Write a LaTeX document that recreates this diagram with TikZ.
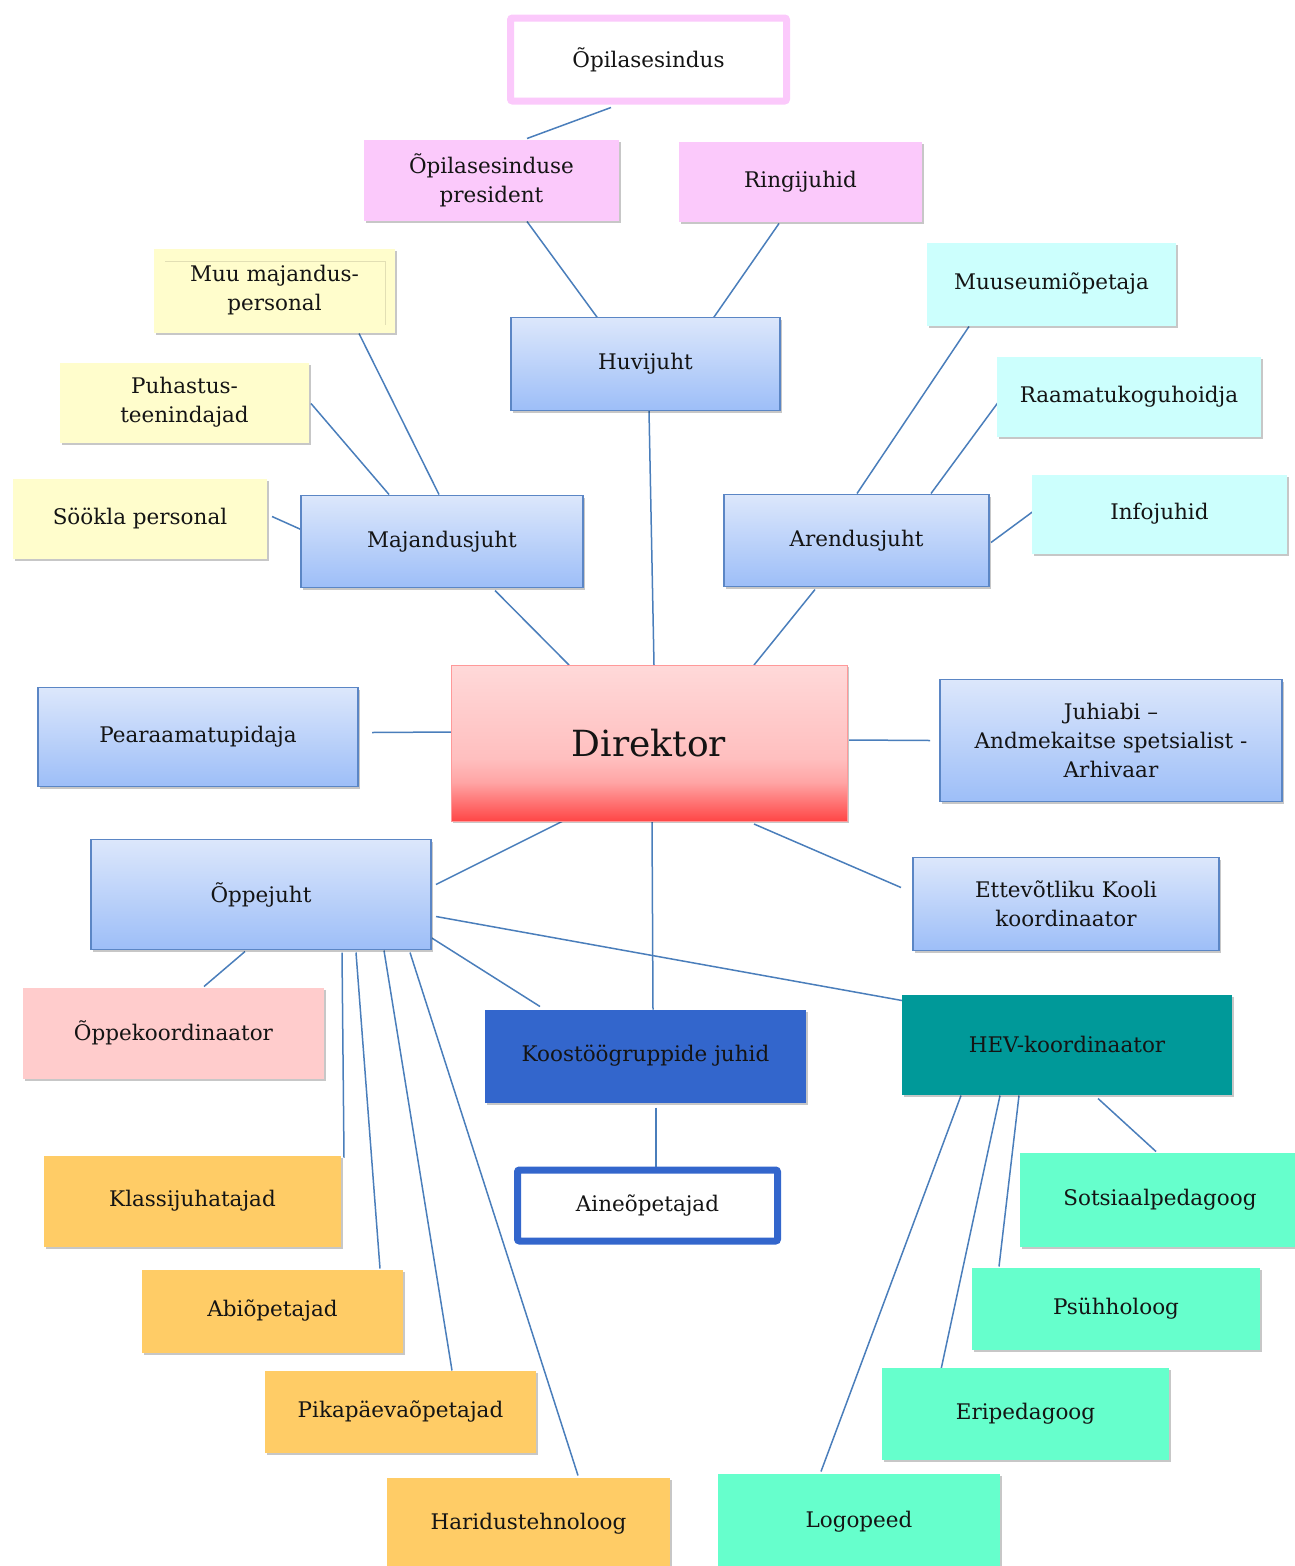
\documentclass[tikz,border=0pt]{standalone}
\usepackage{fontspec}
\setmainfont{DejaVu Serif}
\usetikzlibrary{shadows,backgrounds}
\definecolor{lnc}{HTML}{4A7EBB}
\definecolor{pinkc}{HTML}{FBC9FB}
\definecolor{yelc}{HTML}{FFFDCC}
\definecolor{yeledge}{HTML}{E2DFB4}
\definecolor{cyac}{HTML}{CCFFFD}
\definecolor{orac}{HTML}{FFCC66}
\definecolor{mintc}{HTML}{66FFCC}
\definecolor{tealc}{HTML}{009999}
\definecolor{koosc}{HTML}{3366CC}
\definecolor{rosec}{HTML}{FFCCCC}
\definecolor{bluetop}{HTML}{DCE7FB}
\definecolor{bluebot}{HTML}{9DBEF8}
\definecolor{blueedge}{HTML}{5B86C5}
\definecolor{redtop}{HTML}{FFD9D9}
\definecolor{redlt}{HTML}{FFBFBF}
\definecolor{redmd}{HTML}{FFA5A5}
\definecolor{redbot}{HTML}{FF4646}
\definecolor{txtc}{HTML}{141414}
\pgfdeclareverticalshading{dirshade}{100bp}{color(0bp)=(redbot); color(25bp)=(redbot); color(37.5bp)=(redmd); color(45bp)=(redlt); color(75bp)=(redtop); color(100bp)=(redtop)}
\tikzset{
  box/.style={minimum width=#1, inner sep=0pt, align=center, text=txtc,
    font=\fontsize{21.5}{29}\selectfont,
    drop shadow={shadow xshift=1.5pt, shadow yshift=-2pt, opacity=0.22, fill=black}},
  hgt/.style={minimum height=#1},
  flat/.style={box=#1, draw=none},
  pinkbox/.style={flat=#1, fill=pinkc},
  yelbox/.style={flat=#1, fill=yelc},
  cyabox/.style={flat=#1, fill=cyac},
  orabox/.style={flat=#1, fill=orac},
  mintbox/.style={flat=#1, fill=mintc},
  bluebox/.style={box=#1, draw=blueedge, line width=1.3pt, top color=bluetop, bottom color=bluebot, shading angle=0},
  framebox/.style={box=#1, fill=white, line width=7pt, rounded corners=2pt},
  conn/.style={draw=lnc, line width=1.5pt},
}
\begin{document}
\begin{tikzpicture}[x=1pt,y=-1pt]
\useasboundingbox (0,0) rectangle (1295,1566);
% top
\node[framebox=276pt, hgt=83pt, draw=pinkc] (opi) at (648.5,59.5) {Õpilasesindus};
\node[pinkbox=255pt, hgt=81pt] (pres) at (491.5,180) {Õpilasesinduse\\president};
\node[pinkbox=243pt, hgt=80pt] (ring) at (800.5,181.5) {Ringijuhid};
\node[bluebox=269pt, hgt=93pt] (huvi) at (645.5,364) {Huvijuht};
% left upper
\node[yelbox=241pt, hgt=84pt] (muu) at (274.5,290.5) {Muu majandus-\\personal};
\node[yelbox=249pt, hgt=80pt] (puh) at (184.5,402.5) {Puhastus-\\teenindajad};
\node[yelbox=254pt, hgt=80pt] (sook) at (140,518.5) {Söökla personal};
\node[bluebox=282pt, hgt=92pt] (maj) at (442,541.5) {Majandusjuht};
% right upper
\node[cyabox=249pt, hgt=83pt] (muus) at (1051.5,284) {Muuseumiõpetaja};
\node[cyabox=264pt, hgt=80pt] (raam) at (1129,396.5) {Raamatukoguhoidja};
\node[cyabox=255pt, hgt=79pt] (info) at (1159.5,514) {Infojuhid};
\node[bluebox=265pt, hgt=92pt] (aren) at (856.5,540.5) {Arendusjuht};
% centre
\node[box=396pt, hgt=156pt, draw=red!40, line width=1pt, shading=dirshade, font=\fontsize{36}{40}\selectfont] (dir) at (649,743) {Direktor};
\node[bluebox=320pt, hgt=99pt] (pea) at (198,737) {Pearaamatupidaja};
\node[bluebox=342pt, hgt=122pt] (juh) at (1111,740.5) {Juhiabi –\\Andmekaitse spetsialist -\\Arhivaar};
\node[bluebox=340pt, hgt=110pt] (oppe) at (261,894.5) {Õppejuht};
\node[bluebox=306pt, hgt=93pt] (ette) at (1066,904) {Ettevõtliku Kooli\\koordinaator};
% lower
\node[flat=301pt, hgt=91pt, fill=rosec] (oppek) at (173.5,1033) {Õppekoordinaator};
\node[flat=321pt, hgt=93pt, fill=koosc] (koos) at (645.5,1056) {Koostöögruppide juhid};
\node[flat=330pt, hgt=100pt, fill=tealc] (hev) at (1067,1044.5) {HEV-koordinaator};
\node[framebox=260pt, hgt=71pt, draw=koosc] (aine) at (647.5,1205.5) {Aineõpetajad};
\node[orabox=297pt, hgt=91pt] (klass) at (192.5,1201) {Klassijuhatajad};
\node[orabox=261pt, hgt=83pt] (abi) at (272.5,1311) {Abiõpetajad};
\node[orabox=271pt, hgt=82pt] (pika) at (400.5,1411.5) {Pikapäevaõpetajad};
\node[orabox=283pt, hgt=93pt] (hari) at (528.5,1524) {Haridustehnoloog};
\node[mintbox=280pt, hgt=94pt] (sots) at (1160,1199.5) {Sotsiaalpedagoog};
\node[mintbox=288pt, hgt=82pt] (psy) at (1116,1308.5) {Psühholoog};
\node[mintbox=287pt, hgt=92pt] (erip) at (1025.5,1413.5) {Eripedagoog};
\node[mintbox=282pt, hgt=97pt] (logo) at (859,1522) {Logopeed};
% faint inner frame in the first yellow box
\draw[yeledge, line width=0.8pt] ([xshift=-109.5pt,yshift=29pt]muu.center) -- ([xshift=110.5pt,yshift=29pt]muu.center) -- ([xshift=110.5pt,yshift=-34pt]muu.center);
% connectors
\begin{scope}[on background layer]
\draw[conn] ([xshift=-37.5pt,yshift=-48pt]opi.center) -- ([xshift=35.5pt,yshift=41.5pt]pres.center);
\draw[conn] ([xshift=35.5pt,yshift=-41.5pt]pres.center) -- ([xshift=-47.5pt,yshift=45.5pt]huvi.center);
\draw[conn] ([xshift=-21.5pt,yshift=-42pt]ring.center) -- ([xshift=67.5pt,yshift=45.5pt]huvi.center);
\draw[conn] ([xshift=3.5pt,yshift=-46.5pt]huvi.center) -- ([xshift=5pt,yshift=78pt]dir.center);
\draw[conn] ([xshift=84.5pt,yshift=-43pt]muu.center) -- ([xshift=-3pt,yshift=47pt]maj.center);
\draw[conn] ([xshift=126.5pt,yshift=-1pt]puh.center) -- ([xshift=-53pt,yshift=47pt]maj.center);
\draw[conn] ([xshift=132pt,yshift=2pt]sook.center) -- ([xshift=-141pt,yshift=12pt]maj.center);
\draw[conn] ([xshift=53pt,yshift=-49pt]maj.center) -- ([xshift=-80pt,yshift=78pt]dir.center);
\draw[conn] ([xshift=-82.5pt,yshift=-42.5pt]muus.center) -- ([xshift=0.5pt,yshift=47pt]aren.center);
\draw[conn] ([xshift=-131pt,yshift=-6pt]raam.center) -- ([xshift=74.5pt,yshift=47pt]aren.center);
\draw[conn] ([xshift=-126.5pt,yshift=2.5pt]info.center) -- ([xshift=134.5pt,yshift=-2pt]aren.center);
\draw[conn] ([xshift=-41.5pt,yshift=-49pt]aren.center) -- ([xshift=105pt,yshift=78pt]dir.center);
\draw[conn] ([xshift=174pt,yshift=4.5pt]pea.center) -- ([xshift=-198pt,yshift=11pt]dir.center);
\draw[conn] ([xshift=200pt,yshift=3pt]dir.center) -- ([xshift=-181pt,yshift=0pt]juh.center);
\draw[conn] ([xshift=-86pt,yshift=-78pt]dir.center) -- ([xshift=175pt,yshift=10pt]oppe.center);
\draw[conn] ([xshift=105pt,yshift=-81pt]dir.center) -- ([xshift=-165pt,yshift=16.5pt]ette.center);
\draw[conn] ([xshift=3pt,yshift=-78pt]dir.center) -- ([xshift=7.5pt,yshift=46.5pt]koos.center);
\draw[conn] ([xshift=175pt,yshift=-22pt]oppe.center) -- ([xshift=-165pt,yshift=44pt]hev.center);
\draw[conn] ([xshift=-16pt,yshift=-57pt]oppe.center) -- ([xshift=30.5pt,yshift=46.5pt]oppek.center);
\draw[conn] ([xshift=170pt,yshift=-43pt]oppe.center) -- ([xshift=-105.5pt,yshift=49.5pt]koos.center);
\draw[conn] ([xshift=81pt,yshift=-58pt]oppe.center) -- ([xshift=151.5pt,yshift=43.5pt]klass.center);
\draw[conn] ([xshift=95pt,yshift=-58pt]oppe.center) -- ([xshift=107.5pt,yshift=42.5pt]abi.center);
\draw[conn] ([xshift=123pt,yshift=-56pt]oppe.center) -- ([xshift=51.5pt,yshift=41pt]pika.center);
\draw[conn] ([xshift=149pt,yshift=-58pt]oppe.center) -- ([xshift=49.5pt,yshift=48.5pt]hari.center);
\draw[conn] ([xshift=10.5pt,yshift=-51.5pt]koos.center) -- ([xshift=8.5pt,yshift=39pt]aine.center);
\draw[conn] ([xshift=31pt,yshift=-54pt]hev.center) -- ([xshift=-4pt,yshift=48pt]sots.center);
\draw[conn] ([xshift=-48pt,yshift=-51pt]hev.center) -- ([xshift=-117pt,yshift=42pt]psy.center);
\draw[conn] ([xshift=-67pt,yshift=-51pt]hev.center) -- ([xshift=-84.5pt,yshift=44pt]erip.center);
\draw[conn] ([xshift=-106pt,yshift=-51pt]hev.center) -- ([xshift=-38pt,yshift=50.5pt]logo.center);
\end{scope}
\end{tikzpicture}
\end{document}
